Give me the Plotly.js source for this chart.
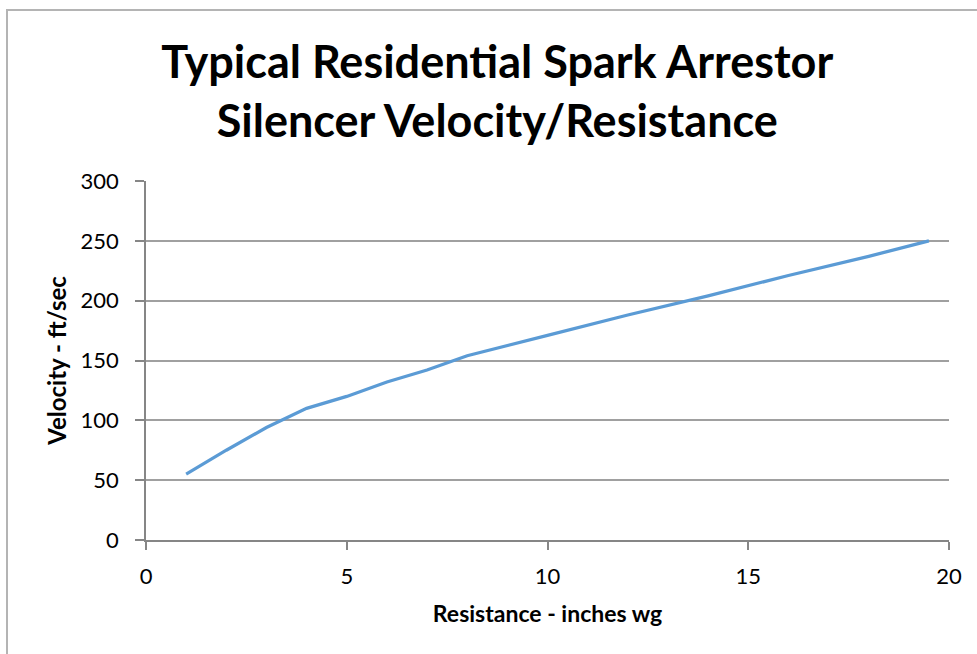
<!DOCTYPE html>
<html>
<head>
<meta charset="utf-8">
<script src="https://cdn.plot.ly/plotly-3.0.1.min.js"></script>
<style>
  html, body { margin: 0; padding: 0; background: #fff; }
  #wrap { position: relative; width: 977px; height: 654px; overflow: hidden; }
  #chart { position: absolute; left: 0; top: 0; width: 977px; height: 654px; }
  #frame { position: absolute; left: 6px; top: 9px; width: 1000px; height: 700px;
           border-left: 2px solid #b4b4b4; border-top: 2px solid #b4b4b4; pointer-events: none; }
</style>
</head>
<body>
<div id="wrap">
  <div id="chart"></div>
  <div id="frame"></div>
</div>
<script>
const resistance = [1, 2, 3, 4, 5, 6, 7, 8, 10, 12, 14, 16, 18, 19.5];
const velocity   = [55, 75, 94, 110, 120, 132, 142, 154, 171, 188, 204, 221, 237, 250];
const xTicks = [0, 5, 10, 15, 20];
const yTicks = [0, 50, 100, 150, 200, 250, 300];

const chartTitle = 'Typical Residential Spark Arrestor<br>Silencer Velocity/Resistance';
const xTitle = 'Resistance - inches wg';
const yTitle = 'Velocity - ft/sec';

const FONT = 'Lato, "Open Sans", sans-serif';

const trace = {
  x: resistance,
  y: velocity,
  type: 'scatter',
  mode: 'lines',
  line: { color: '#5b9bd5', width: 3.2 },
  hoverinfo: 'x+y'
};

const layout = {
  width: 977,
  height: 654,
  margin: { l: 146, r: 28, t: 181, b: 114 },
  paper_bgcolor: '#ffffff',
  plot_bgcolor: '#ffffff',
  showlegend: false,
  font: { family: FONT, color: '#000000', size: 22 },
  title: {
    text: chartTitle,
    font: { family: FONT, size: 45, color: '#000000', weight: 'bold' },
    x: 0.509, xref: 'container', xanchor: 'center',
    y: 0.880, yref: 'container', yanchor: 'middle'
  },
  xaxis: {
    range: [0, 20],
    tickvals: xTicks,
    ticktext: xTicks.map(String),
    showgrid: false,
    zeroline: false,
    showline: true,
    linecolor: '#868686',
    linewidth: 1.5,
    ticks: 'outside',
    ticklen: 8,
    tickcolor: '#868686',
    tickwidth: 1.5,
    ticklabelstandoff: 8,
    tickfont: { family: FONT, size: 22, color: '#000000' },
    title: { text: xTitle, font: { family: FONT, size: 23, color: '#000000', weight: 'bold' }, standoff: 18 },
    fixedrange: true
  },
  yaxis: {
    range: [0, 300],
    tickvals: yTicks,
    ticktext: yTicks.map(String),
    showgrid: true,
    gridcolor: '#a0a0a0',
    gridwidth: 1.5,
    zeroline: false,
    showline: true,
    linecolor: '#868686',
    linewidth: 1.5,
    ticks: 'outside',
    ticklen: 9,
    tickcolor: '#868686',
    tickwidth: 1.5,
    ticklabelstandoff: 12,
    tickfont: { family: FONT, size: 22, color: '#000000' },
    title: { text: yTitle, font: { family: FONT, size: 24, color: '#000000', weight: 'bold' }, standoff: 7 },
    fixedrange: true
  }
};

Plotly.newPlot('chart', [trace], layout, { displayModeBar: false });
</script>
</body>
</html>
